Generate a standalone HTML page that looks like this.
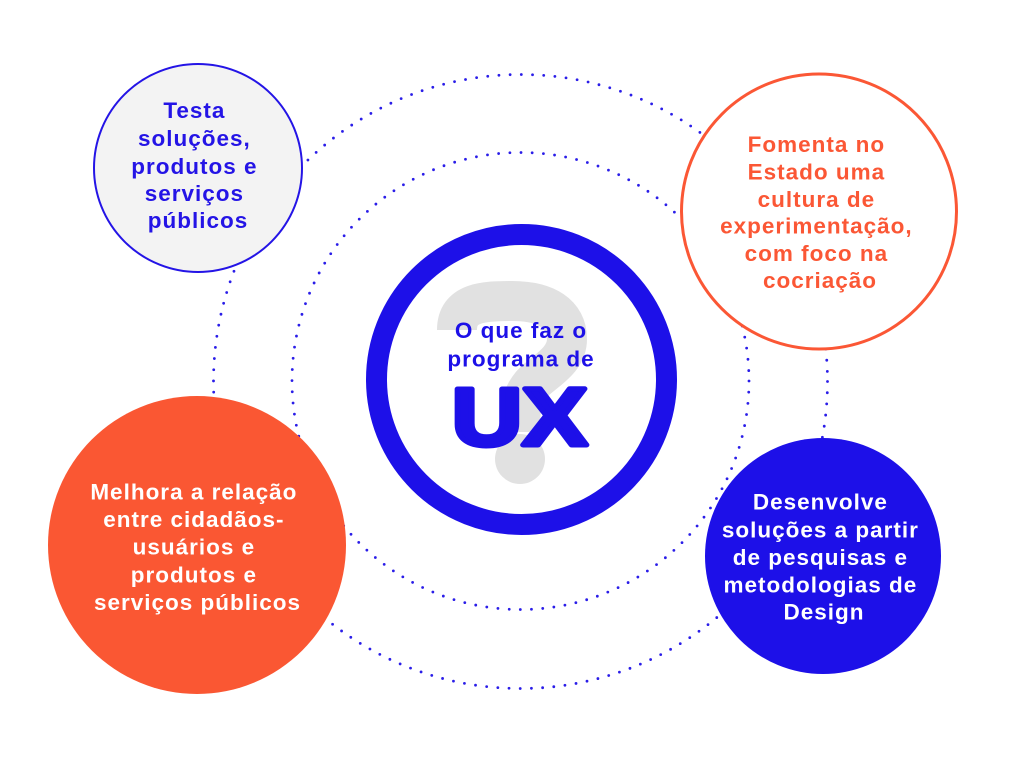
<!DOCTYPE html>
<html>
<head>
<meta charset="utf-8">
<style>
  html, body { margin:0; padding:0; background:#ffffff; }
  body { width:1024px; height:759px; overflow:hidden; }
  svg { display:block; }
  .t { font-family: "Liberation Sans", "DejaVu Sans", sans-serif; font-weight:bold; font-size:22.5px; letter-spacing:1px; text-anchor:middle; }
</style>
</head>
<body>
<svg width="1024" height="759" viewBox="0 0 1024 759" xmlns="http://www.w3.org/2000/svg">
  <rect x="0" y="0" width="1024" height="759" fill="#ffffff"/>

  <!-- dotted orbits -->
  <circle cx="520.5" cy="381.5" r="307" fill="none" stroke="#2a1de8" stroke-width="2.8" stroke-linecap="round" stroke-dasharray="0 11.22"/>
  <circle cx="520.5" cy="381" r="228.5" fill="none" stroke="#2a1de8" stroke-width="2.8" stroke-linecap="round" stroke-dasharray="0 11.22"/>

  <!-- question mark -->
  <path d="M 457 330 C 457 302, 484 301, 512 301 C 546 301, 567 314, 567 339 C 567 362, 542 372, 531 385 C 522 396, 520 406, 520 432" fill="none" stroke="#e1e1e1" stroke-width="40"/>
  <circle cx="520" cy="459" r="25" fill="#e1e1e1"/>

  <!-- center ring -->
  <circle cx="521.5" cy="379.5" r="145" fill="none" stroke="#1d10e8" stroke-width="21"/>

  <!-- center text -->
  <text class="t" x="521" y="338" fill="#1d10e8">O que faz o</text>
  <text class="t" x="521" y="366.5" fill="#1d10e8">programa de</text>
  <g transform="translate(522.5,445) scale(1.19,1)">
    <text x="-2.5" y="0" font-family="Liberation Sans, DejaVu Sans, sans-serif" font-weight="bold" font-size="82" text-anchor="middle" fill="#1d10e8" stroke="#1d10e8" stroke-width="5" stroke-linejoin="round">UX</text>
  </g>

  <!-- top-left circle -->
  <circle cx="198" cy="168" r="104" fill="#f3f3f3" stroke="#2414e6" stroke-width="2"/>
  <text class="t" fill="#2414e6">
    <tspan x="198" y="118">Testa</tspan>
    <tspan x="198" y="146">soluções,</tspan>
    <tspan x="198" y="174">produtos e</tspan>
    <tspan x="198" y="201">serviços</tspan>
    <tspan x="198" y="228">públicos</tspan>
  </text>

  <!-- top-right circle -->
  <circle cx="819" cy="211.5" r="137.5" fill="#ffffff" stroke="#fb5735" stroke-width="3"/>
  <text class="t" fill="#fb5735">
    <tspan x="820" y="152">Fomenta no</tspan>
    <tspan x="820" y="179.5">Estado uma</tspan>
    <tspan x="820" y="207">cultura de</tspan>
    <tspan x="820" y="233.5">experimentação,</tspan>
    <tspan x="820" y="261">com foco na</tspan>
    <tspan x="820" y="288">cocriação</tspan>
  </text>

  <!-- bottom-left circle -->
  <circle cx="197" cy="545" r="149" fill="#fa5733"/>
  <text class="t" fill="#ffffff">
    <tspan x="197.5" y="499.5">Melhora a relação</tspan>
    <tspan x="197.5" y="527">entre cidadãos-</tspan>
    <tspan x="197.5" y="554.5">usuários e</tspan>
    <tspan x="197.5" y="582.5">produtos e</tspan>
    <tspan x="197.5" y="610">serviços públicos</tspan>
  </text>

  <!-- bottom-right circle -->
  <circle cx="823" cy="556" r="118" fill="#1d10e8"/>
  <text class="t" fill="#ffffff">
    <tspan x="824" y="509.5">Desenvolve</tspan>
    <tspan x="824" y="537.5">soluções a partir</tspan>
    <tspan x="824" y="565">de pesquisas e</tspan>
    <tspan x="824" y="592.5">metodologias de</tspan>
    <tspan x="824" y="619.5">Design</tspan>
  </text>
</svg>
</body>
</html>
